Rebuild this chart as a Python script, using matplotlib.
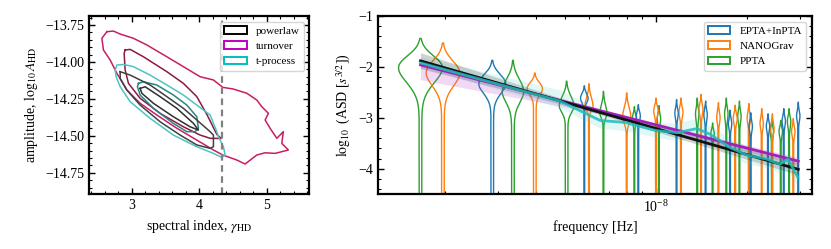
import numpy as np
import matplotlib
matplotlib.use('Agg')
import matplotlib.pyplot as plt
from matplotlib.patches import Patch
from matplotlib.ticker import MultipleLocator, LogLocator, NullFormatter

plt.rcParams['font.family'] = 'serif'
plt.rcParams['font.serif'] = ['Liberation Serif', 'DejaVu Serif']
plt.rcParams['mathtext.fontset'] = 'stix'
plt.rcParams['font.size'] = 10

# ---------------- left panel: 2D posterior contours (gamma, log10 A) ----------------
gamma_fixed = 13 / 3

pl_outer_gamma = [2.827, 2.975, 3.074, 3.271, 3.519, 3.764, 3.963, 4.160, 4.209, 4.209,
                  4.160, 3.963, 3.716, 3.419, 3.123, 2.926, 2.827]
pl_outer_logA = [-14.066, -14.089, -14.111, -14.156, -14.235, -14.314, -14.393, -14.472, -14.495, -14.574,
                 -14.585, -14.562, -14.495, -14.405, -14.292, -14.190, -14.111]
pl_inner_gamma = [3.123, 3.197, 3.419, 3.667, 3.913, 3.987, 3.864, 3.616, 3.320, 3.148]
pl_inner_logA = [-14.179, -14.168, -14.235, -14.314, -14.416, -14.461, -14.439, -14.371, -14.280, -14.212]

to_outer_gamma = [2.630, 2.727, 2.827, 3.024, 3.222, 3.519, 3.764, 4.012, 4.209, 4.348,
                  4.501, 4.704, 4.852, 4.926, 5.024, 4.975, 5.049, 5.148, 5.246, 5.222,
                  5.320, 5.123, 4.975, 4.852, 4.679, 4.556, 4.348, 4.209, 3.963, 3.667,
                  3.370, 3.123, 2.926, 2.778, 2.679, 2.579, 2.556]
to_outer_logA = [-13.795, -13.791, -13.811, -13.840, -13.885, -13.965, -14.032, -14.100, -14.122, -14.172,
                 -14.183, -14.212, -14.258, -14.303, -14.348, -14.393, -14.449, -14.517, -14.472, -14.551,
                 -14.596, -14.619, -14.615, -14.630, -14.691, -14.664, -14.630, -14.596, -14.529, -14.449,
                 -14.359, -14.280, -14.190, -14.077, -13.987, -13.919, -13.840]
to_inner_gamma = [2.901, 2.975, 3.172, 3.519, 3.764, 3.963, 4.116, 4.259, 4.323, 4.160,
                  4.012, 3.764, 3.419, 3.123, 2.950, 2.901, 2.886]
to_inner_logA = [-13.919, -13.915, -13.965, -14.066, -14.145, -14.235, -14.359, -14.490, -14.518, -14.517,
                 -14.495, -14.439, -14.348, -14.246, -14.145, -14.055, -13.942]

tp_outer_gamma = [2.753, 2.778, 2.876, 3.024, 3.271, 3.519, 3.764, 3.963, 4.160, 4.259,
                  4.283, 4.357, 4.382, 4.333, 4.209, 3.963, 3.616, 3.271, 2.975, 2.827, 2.767]
tp_outer_logA = [-14.055, -14.021, -14.017, -14.032, -14.089, -14.156, -14.224, -14.292, -14.359, -14.472,
                 -14.506, -14.574, -14.630, -14.646, -14.619, -14.574, -14.495, -14.382, -14.269, -14.168, -14.100]
tp_inner_gamma = [3.098, 3.172, 3.370, 3.616, 3.815, 3.963, 3.987, 3.938, 3.815, 3.616, 3.320, 3.123, 3.083]
tp_inner_logA = [-14.145, -14.134, -14.156, -14.224, -14.292, -14.371, -14.449, -14.472, -14.472, -14.416,
                 -14.314, -14.224, -14.168]

# ---------------- right panel: free-spectrum violins per PTA ----------------
ppta_freq = [1.66e-9, 3.36e-9, 5.06e-9, 6.70e-9, 8.48e-9, 1.023e-8, 1.37e-8, 1.54e-8, 1.71e-8, 1.89e-8,
             2.42e-8, 2.59e-8, 2.76e-8]
ppta_top = [-1.44, -1.87, -2.28, -2.48, -2.78, -2.76, -2.61, -3.10, -2.61, -2.67, -3.03, -3.05, -2.82]
ppta_mode = [-1.99, -2.45, -2.74, -2.90, -3.00, -3.00, -2.90, -3.30, -2.90, -2.95, -3.25, -3.25, -3.05]
ppta_width = [0.070, 0.033, 0.022, 0.011, 0.006, 0.005, 0.005, 0.005, 0.005, 0.005, 0.005, 0.005, 0.005]
ppta_neck = [-2.80, -3.05, -3.10, -3.16, -3.30, -3.30, -3.25, -3.55, -3.25, -3.25, -3.50, -3.50, -3.35]

ng_freq = [1.97e-9, 3.97e-9, 6.0e-9, 8.0e-9, 1.0e-8, 1.21e-8, 1.41e-8, 1.61e-8, 1.83e-8, 2.03e-8,
           2.24e-8, 2.43e-8, 2.85e-8]
ng_top = [-1.53, -2.12, -2.33, -2.51, -2.61, -2.61, -2.54, -2.70, -2.75, -2.72, -2.82, -2.92, -3.01]
ng_mode = [-2.09, -2.41, -2.77, -2.97, -2.86, -2.88, -2.82, -2.98, -3.00, -3.00, -3.10, -3.20, -3.25]
ng_width = [0.053, 0.023, 0.013, 0.013, 0.007, 0.006, 0.006, 0.005, 0.006, 0.005, 0.005, 0.005, 0.005]
ng_neck = [-2.80, -2.74, -2.97, -3.30, -3.10, -3.15, -3.10, -3.25, -3.25, -3.25, -3.35, -3.45, -3.50]

epta_freq = [2.87e-9, 5.79e-9, 8.74e-9, 1.17e-8, 1.46e-8, 1.76e-8, 2.06e-8, 2.35e-8, 2.65e-8, 2.96e-8]
epta_top = [-1.87, -2.37, -2.74, -2.64, -2.67, -2.85, -2.90, -2.92, -2.82, -2.69]
epta_mode = [-2.31, -2.61, -2.95, -2.90, -2.92, -3.10, -3.15, -3.15, -3.05, -2.95]
epta_width = [0.042, 0.012, 0.006, 0.005, 0.005, 0.005, 0.005, 0.005, 0.005, 0.005]
epta_neck = [-2.84, -2.84, -3.20, -3.15, -3.20, -3.35, -3.40, -3.40, -3.30, -3.20]

# spectral model medians and bands
pl_freq = [1.66e-9, 2.96e-8]
pl_median = [-1.88, -4.01]
pl_band_freq = [1.66e-9, 6e-9, 2.96e-8]
pl_band_hi = [-1.72, -2.79, -3.88]
pl_band_lo = [-2.03, -2.87, -4.12]

to_freq = [1.66e-9, 2.96e-8]
to_median = [-1.96, -3.85]
to_band_freq = [1.66e-9, 7e-9, 2.96e-8]
to_band_hi = [-1.88, -2.87, -3.78]
to_band_lo = [-2.25, -2.95, -3.93]

tp_freq = [1.66e-9, 4.81e-9, 6.53e-9, 7.9e-9, 1.0e-8, 1.174e-8, 1.367e-8, 1.51e-8, 1.758e-8,
           2.0e-8, 2.33e-8, 2.57e-8, 2.74e-8, 2.95e-8]
tp_median = [-1.92, -2.67, -3.05, -3.09, -3.25, -3.29, -3.21, -3.32, -3.58, -3.73, -3.81, -3.91, -3.81, -4.17]
tp_band_hi = [-1.80, -2.45, -2.85, -2.95, -3.10, -3.10, -3.00, -3.15, -3.40, -3.55, -3.65, -3.75, -3.70, -3.90]
tp_band_lo = [-2.00, -2.80, -3.20, -3.25, -3.38, -3.45, -3.40, -3.50, -3.75, -3.90, -3.98, -4.08, -4.05, -4.35]


def draw_violin(ax, f, top, mode, width, neck, color):
    tail = 0.0043 if width > 0.02 else 0.0012
    y = np.linspace(-4.8, top, 400)
    s = np.where(y >= mode, (top - mode) / 2.6, (mode - neck) / 2.6)
    w = width * np.exp(-0.5 * ((y - mode) / s) ** 2)
    w = w + tail / (1 + np.exp((y - mode) / 0.04))
    xs = np.concatenate([f * 10 ** (-w), (f * 10 ** w)[::-1]])
    ys = np.concatenate([y, y[::-1]])
    ax.plot(xs, ys, color=color, lw=1.0, zorder=2)


def style_axes(ax):
    for sp in ax.spines.values():
        sp.set_linewidth(1.6)
    ax.tick_params(which='both', direction='in', top=True, right=True)
    ax.tick_params(which='major', length=4.5, width=1.0, labelsize=10)
    ax.tick_params(which='minor', length=2.3, width=0.8)


fig = plt.figure(figsize=(8.31, 2.49), dpi=100)
ax1 = fig.add_axes([0.1075, 0.2197, 0.2647, 0.716])
ax2 = fig.add_axes([0.4552, 0.2197, 0.5216, 0.716])

# left panel
ax1.plot(to_outer_gamma + to_outer_gamma[:1], to_outer_logA + to_outer_logA[:1], color='#c81e64', lw=1.1)
ax1.plot(to_inner_gamma + to_inner_gamma[:1], to_inner_logA + to_inner_logA[:1], color='#8c1a40', lw=1.1)
ax1.plot(tp_outer_gamma + tp_outer_gamma[:1], tp_outer_logA + tp_outer_logA[:1], color='#4cc4c4', lw=1.1)
ax1.plot(tp_inner_gamma + tp_inner_gamma[:1], tp_inner_logA + tp_inner_logA[:1], color='#2a8585', lw=1.1)
ax1.plot(pl_outer_gamma + pl_outer_gamma[:1], pl_outer_logA + pl_outer_logA[:1], color='#404040', lw=1.1)
ax1.plot(pl_inner_gamma + pl_inner_gamma[:1], pl_inner_logA + pl_inner_logA[:1], color='#303030', lw=1.1)
ax1.axvline(gamma_fixed, color='grey', ls='--', lw=1.6, dashes=(3, 2))

ax1.set_xlim(2.37, 5.63)
ax1.set_ylim(-14.896, -13.689)
ax1.xaxis.set_major_locator(MultipleLocator(1))
ax1.xaxis.set_minor_locator(MultipleLocator(0.2))
ax1.yaxis.set_major_locator(MultipleLocator(0.25))
ax1.yaxis.set_minor_locator(MultipleLocator(0.05))
ax1.set_xlabel(r'spectral index, $\gamma_{\rm HD}$', fontsize=10)
ax1.set_ylabel(r'amplitude, $\log_{10}A_{\rm HD}$', fontsize=10)
style_axes(ax1)
h1 = [Patch(facecolor='none', edgecolor=c, lw=1.4) for c in ['k', 'm', 'c']]
ax1.legend(h1, ['powerlaw', 'turnover', 't-process'], loc='upper right', fontsize=8)

# right panel
for f, t, m, w, n in zip(ppta_freq, ppta_top, ppta_mode, ppta_width, ppta_neck):
    draw_violin(ax2, f, t, m, w, n, 'tab:green')
for f, t, m, w, n in zip(ng_freq, ng_top, ng_mode, ng_width, ng_neck):
    draw_violin(ax2, f, t, m, w, n, 'tab:orange')
for f, t, m, w, n in zip(epta_freq, epta_top, epta_mode, epta_width, epta_neck):
    draw_violin(ax2, f, t, m, w, n, 'tab:blue')

ax2.fill_between(to_band_freq, to_band_lo, to_band_hi, color='#c050d0', alpha=0.22, lw=0, zorder=3)
ax2.fill_between(pl_band_freq, pl_band_lo, pl_band_hi, color='black', alpha=0.18, lw=0, zorder=3)
ax2.fill_between(tp_freq, tp_band_lo, tp_band_hi, color='#40c8c8', alpha=0.15, lw=0, zorder=3)
ax2.plot(to_freq, to_median, color='#a020b8', lw=2.0, zorder=4)
ax2.plot(pl_freq, pl_median, color='#111111', lw=2.0, zorder=4)
ax2.plot(tp_freq, tp_median, color='#1fbcbc', lw=2.0, alpha=0.85, zorder=5)

ax2.set_xscale('log')
ax2.set_xlim(1.203e-9, 3.28e-8)
ax2.set_ylim(-4.5, -1)
ax2.xaxis.set_major_locator(LogLocator(base=10))
ax2.xaxis.set_minor_locator(LogLocator(base=10, subs=np.arange(2, 10)))
ax2.xaxis.set_minor_formatter(NullFormatter())
ax2.yaxis.set_major_locator(MultipleLocator(1))
ax2.yaxis.set_minor_locator(MultipleLocator(0.2))
ax2.set_xlabel('frequency [Hz]', fontsize=10)
ax2.set_ylabel(r'$\log_{10}$ (ASD [$s^{3/2}$])', fontsize=10)
style_axes(ax2)
h2 = [Patch(facecolor='none', edgecolor=c, lw=1.4) for c in ['tab:blue', 'tab:orange', 'tab:green']]
ax2.legend(h2, ['EPTA+InPTA', 'NANOGrav', 'PPTA'], loc='upper right', fontsize=8)

fig.savefig('out.png', dpi=100)
